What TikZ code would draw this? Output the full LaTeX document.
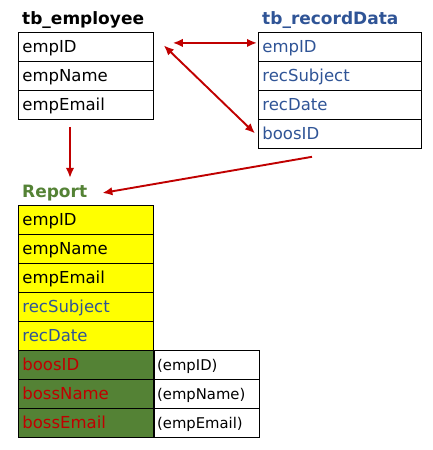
\documentclass[tikz,border=0pt]{standalone}
\usepackage{fontspec}
\setmainfont{DejaVu Sans}
\definecolor{tbblue}{RGB}{47,84,150}
\definecolor{tbgreen}{RGB}{84,130,53}
\definecolor{tbred}{RGB}{192,0,0}
\definecolor{tbyellow}{RGB}{255,255,0}
\usetikzlibrary{arrows.meta,positioning}

\begin{document}
\begin{tikzpicture}[x=1pt,y=-1pt,>={Latex[length=10pt,width=8.5pt]},
  field/.style={draw=black,line width=0.8pt,anchor=north west,minimum height=29pt,
    inner xsep=4pt,inner ysep=0pt,text width=127pt,text height=14pt,text depth=2pt,
    align=left,font=\fontsize{16.5}{18}\selectfont},
  note/.style={field,text width=99pt,inner xsep=3pt,text height=13.5pt,
    font=\fontsize{14.8}{16}\selectfont},
  title/.style={anchor=base west,inner sep=0pt,font=\fontsize{17}{19}\selectfont\bfseries},
  link/.style={tbred,line width=1.9pt}]
  \useasboundingbox (0,0) rectangle (432,450);
  % tb_employee
  \node[title] (emp) at (22,24) {tb\_employee};
  \foreach \l [count=\i] in {empID,empName,empEmail}
    \node[field] (emp\i) at (18,{32+29*(\i-1)}) {\l};
  % tb_recordData
  \node[title,text=tbblue] (rec) at (262,24) {tb\_recordData};
  \foreach \l [count=\i] in {empID,recSubject,recDate,boosID}
    \node[field,text=tbblue,text width=155pt] (rec\i) at (258,{32+29*(\i-1)}) {\l};
  % Report
  \node[title,text=tbgreen] (rep) at (22,197) {Report};
  \foreach \l/\c/\t [count=\i] in {
    empID/tbyellow/black,
    empName/tbyellow/black,
    empEmail/tbyellow/black,
    recSubject/tbyellow/tbblue,
    recDate/tbyellow/tbblue,
    boosID/tbgreen/tbred,
    bossName/tbgreen/tbred,
    bossEmail/tbgreen/tbred}
    \node[field,fill=\c,text=\t] (rep\i) at (18,{205+29*(\i-1)}) {\l};
  \foreach \l [count=\i from 6] in {{(empID)},{(empName)},{(empEmail)}}
    \node[note] (src\i) at (rep\i.north east) {\l};
  % links
  \draw[link,<->] ([xshift=19pt,yshift=4pt]emp1.east) -- ([xshift=-1pt,yshift=4pt]rec1.west);
  \draw[link,<->] ([xshift=10pt,yshift=1.5pt]emp1.east) -- ([xshift=-3pt,yshift=0.5pt]rec4.west);
  \draw[link,->] ([xshift=52pt,yshift=-7pt]emp3.south west) -- ([xshift=48pt,yshift=6.5pt]rep.north west);
  \draw[link,->] ([xshift=54pt,yshift=-8pt]rec4.south west) -- ([xshift=15pt,yshift=4pt]rep.base east);
\end{tikzpicture}
\end{document}
